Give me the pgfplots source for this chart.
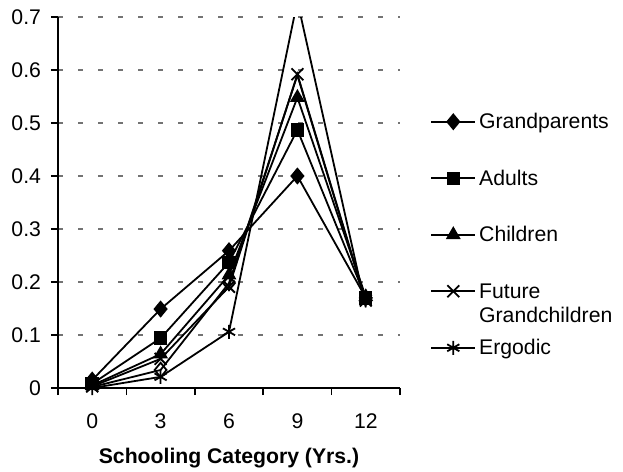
\documentclass[border=0pt]{standalone}
\usepackage{pgfplots}
\pgfplotsset{compat=1.18}
\usepackage{fontspec}
\setmainfont{Liberation Sans}
\begin{document}
\begin{tikzpicture}
\useasboundingbox (-29bp,-42bp) rectangle (282.5bp,194bp);
\begin{axis}[
  at={(0,0)}, anchor=south west,
  width=171bp, height=185.5bp, scale only axis,
  font=\fontsize{10.6bp}{12.7bp}\selectfont,
  xmin=-0.5, xmax=4.5, ymin=0, ymax=0.7,
  axis lines*=left,
  axis line style={line width=0.8bp, black},
  xtick={0,1,2,3,4}, xticklabels={0,3,6,9,12},
  minor xtick={-0.5,0.5,1.5,2.5,3.5,4.5},
  ytick={0,0.1,0.2,0.3,0.4,0.5,0.6,0.7},
  yticklabels={0,0.1,0.2,0.3,0.4,0.5,0.6,0.7},
  tick align=outside,
  major tick length=3.5bp, minor tick length=3.5bp,
  tick style={black, line width=0.8bp},
  major x tick style={draw=none},
  yticklabel style={xshift=-1.5bp},
  xticklabel style={yshift=-6bp},
  ymajorgrids,
  major grid style={dash pattern=on 2.5bp off 7.5bp, black!55, line width=0.8bp},
  xlabel={\textbf{Schooling Category (Yrs.)}},
  xlabel style={at={(axis description cs:0.5,0)}, anchor=center, yshift=-35bp},
  every axis plot/.append style={black, line width=0.9bp},
  legend cell align=left,
  legend style={at={(1.0877,0.751)}, anchor=north west, draw=none, fill=none,
    inner sep=0pt, row sep=16.3bp, column sep=0pt,
    nodes={inner xsep=1.5bp, inner ysep=0pt, text height=0.95em, text depth=0.25em}},
  legend image code/.code={\draw[#1, mark indices={2}] plot coordinates {(0bp,0bp)(11bp,0bp)(22bp,0bp)};},
]
\addplot[mark=diamond*, mark size=3.6bp, mark options={xscale=1.1, solid, fill=black}]
  coordinates {(0,0.015) (1,0.149) (2,0.259) (3,0.400) (4,0.170)};
\addlegendentry{Grandparents}
\addplot[mark=square*, mark size=2.9bp, mark options={solid, fill=black}]
  coordinates {(0,0.008) (1,0.094) (2,0.237) (3,0.487) (4,0.170)};
\addlegendentry{Adults}
\addplot[mark=triangle*, mark size=3.4bp, mark options={solid, fill=black}]
  coordinates {(0,0.005) (1,0.064) (2,0.213) (3,0.548) (4,0.172)};
\addlegendentry{Children}
\addplot[mark=x, mark size=4.2bp, mark options={solid}]
  coordinates {(0,0.003) (1,0.055) (2,0.191) (3,0.592) (4,0.165)};
\addlegendentry{{\rlap{\raisebox{-1.14em}[0pt][0pt]{Grandchildren}}Future}}
\addplot[mark=asterisk, mark size=3.5bp, mark indices={1,2,3,5}, mark options={solid}]
  coordinates {(0,0.000) (1,0.021) (2,0.106) (3,0.730) (4,0.152)};
\addlegendentry{Ergodic}
\addplot[forget plot, mark=diamond, mark size=3.6bp, mark indices={2,3}, mark options={xscale=1.1, solid, fill=white}]
  coordinates {(0,0.002) (1,0.034) (2,0.198) (3,0.590) (4,0.163)};
\end{axis}
\end{tikzpicture}
\end{document}
